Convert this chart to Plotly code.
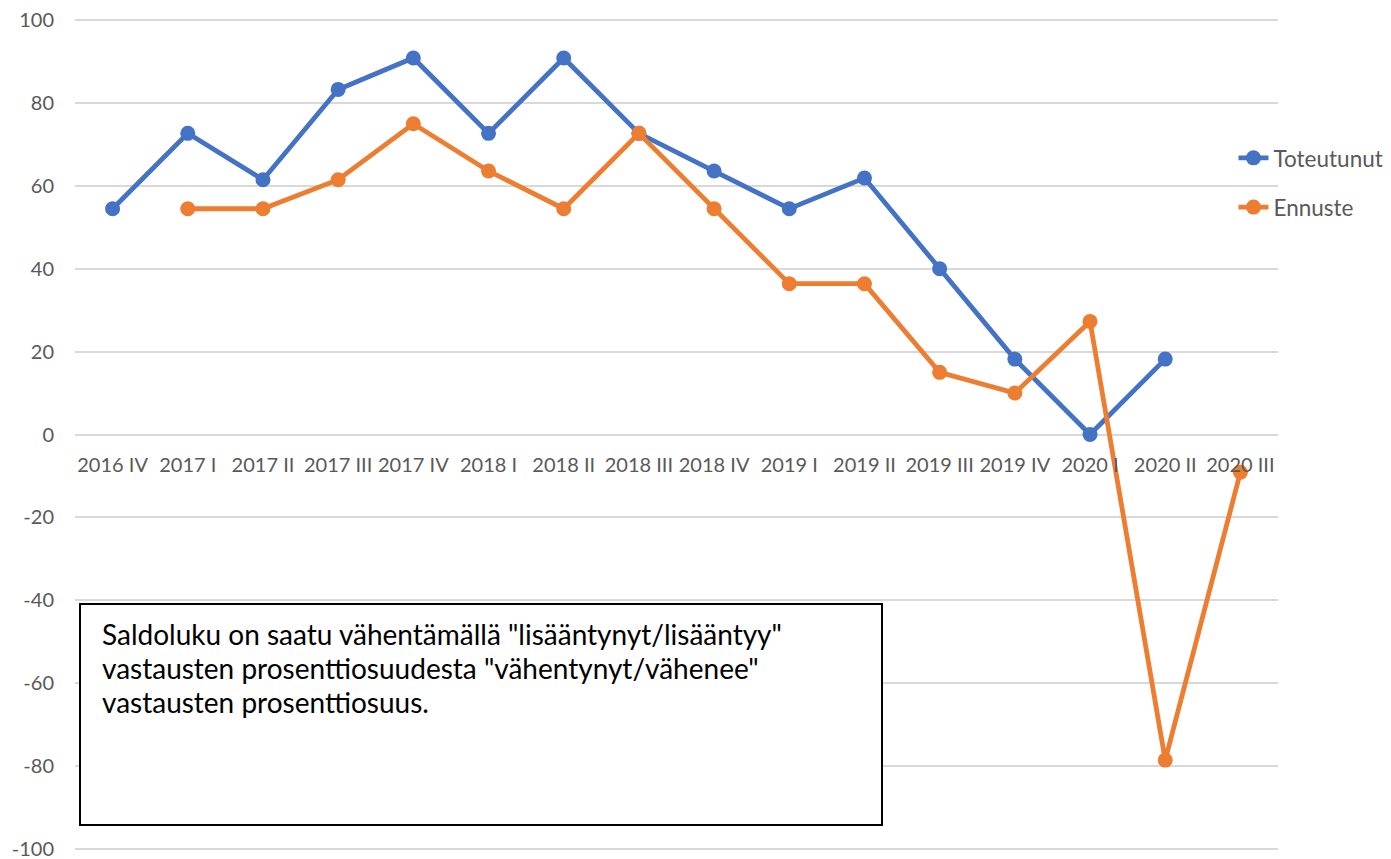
import plotly.graph_objects as go

categories = ["2016 IV", "2017 I", "2017 II", "2017 III", "2017 IV", "2018 I", "2018 II",
              "2018 III", "2018 IV", "2019 I", "2019 II", "2019 III", "2019 IV", "2020 I",
              "2020 II", "2020 III"]
toteutunut = [54.5, 72.7, 61.5, 83.3, 90.9, 72.7, 90.9, 72.7, 63.6, 54.5, 61.9, 40.0,
              18.2, 0.0, 18.2, None]
ennuste = [None, 54.5, 54.5, 61.5, 75.0, 63.6, 54.5, 72.7, 54.5, 36.4, 36.4, 15.0,
           10.0, 27.3, -78.6, -9.1]
y_ticks = [-100, -80, -60, -40, -20, 0, 20, 40, 60, 80, 100]
y_tick_labels = ["-100", "-80", "-60", "-40", "-20", "0", "20", "40", "60", "80", "100"]
note_lines = ['Saldoluku on saatu vähentämällä "lisääntynyt/lisääntyy"',
              'vastausten prosenttiosuudesta "vähentynyt/vähenee"',
              'vastausten prosenttiosuus.']

FONT = "Lato"
GREY = "#595959"

fig = go.Figure()
fig.add_trace(go.Scatter(x=categories, y=toteutunut, name="Toteutunut", mode="lines+markers",
                         line=dict(color="#4472C4", width=4.8),
                         marker=dict(color="#4472C4", size=15),
                         legendgroup="a"))
fig.add_trace(go.Scatter(x=categories, y=ennuste, name="Ennuste", mode="lines+markers",
                         line=dict(color="#ED7D31", width=4.8),
                         marker=dict(color="#ED7D31", size=15),
                         legendgroup="b"))

fig.update_layout(
    width=1391, height=859,
    margin=dict(l=75, r=113, t=19, b=9, autoexpand=False),
    paper_bgcolor="white", plot_bgcolor="white",
    font=dict(family=FONT, color=GREY, size=20),
    showlegend=True,
    legend=dict(x=0.963, y=0.803, xanchor="left", yanchor="middle",
                bgcolor="rgba(0,0,0,0)", font=dict(size=22.5, color=GREY),
                traceorder="grouped", tracegroupgap=17),
    xaxis=dict(type="category", range=[-0.5, 15.5], showgrid=False, showline=False,
               zeroline=False, ticks="", anchor="free", position=0.5,
               tickfont=dict(size=20, color=GREY), ticklabelstandoff=16),
    yaxis=dict(range=[-100.3, 100.3], tickvals=y_ticks, ticktext=y_tick_labels, showgrid=True,
               gridcolor="#d9d9d9", gridwidth=1.5, zeroline=False, showline=False,
               ticks="", tickfont=dict(size=20, color=GREY), ticklabelstandoff=20,
               ticklabeloverflow="allow", domain=[0, 1]),
)

# note box
fig.add_shape(type="rect", xref="paper", yref="paper",
              x0=(80 - 75) / 1203, x1=(882 - 75) / 1203,
              y0=(850 - 825) / 831, y1=(850 - 604) / 831,
              line=dict(color="black", width=2), fillcolor="white", layer="above")
line_y = [634, 668, 702]
for txt, yy in zip(note_lines, line_y):
    fig.add_annotation(xref="paper", yref="paper", x=(100 - 75) / 1203,
                       y=(850 - yy) / 831, xanchor="left", yanchor="middle",
                       text=txt, showarrow=False,
                       font=dict(family=FONT, size=28, color="black"))

fig.write_html("out.html", post_script="document.body.style.margin='0';",
               config={"displayModeBar": False})
